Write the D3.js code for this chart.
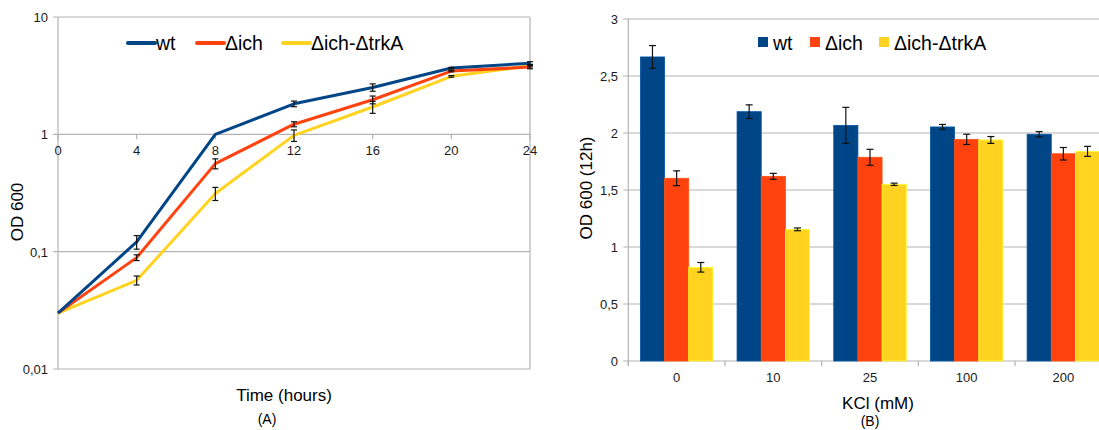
<!DOCTYPE html>
<html>
<head>
<meta charset="utf-8">
<script src="https://cdn.jsdelivr.net/npm/d3@7"></script>
<style>
  body { margin: 0; background: #fff; }
  svg { display: block; font-family: "Liberation Sans", Arial, sans-serif; }
</style>
</head>
<body>
<svg id="fig" width="1099" height="430"></svg>
<script>
// (A) growth curves, OD 600 vs time
const HOURS = [0, 4, 8, 12, 16, 20, 24];
const SERIES = ["wt", "Δich", "Δich-ΔtrkA"];
const COLORS = ["#004586", "#ff420e", "#ffd320"];
const OD_WT    = [0.03, 0.121, 1.0, 1.82, 2.51, 3.67, 4.04];
const OD_ICH   = [0.03, 0.089, 0.563, 1.22, 1.97, 3.46, 3.74];
const OD_TRKA  = [0.03, 0.057, 0.313, 0.98, 1.71, 3.12, 3.85];
const ERR_WT   = [0, 0.016, 0, 0.1, 0.18, 0.05, 0.12];
const ERR_ICH  = [0, 0.005, 0.055, 0.06, 0.15, 0.05, 0.12];
const ERR_TRKA = [0, 0.005, 0.04, 0.11, 0.2, 0.05, 0.1];
const LOG_TICKS = [0.01, 0.1, 1, 10];
const LOG_LABELS = ["0,01", "0,1", "1", "10"];

// (B) OD 600 at 12h vs KCl
const KCL = ["0", "10", "25", "100", "200"];
const BAR_WT   = [2.667, 2.187, 2.067, 2.053, 1.989];
const BAR_ICH  = [1.603, 1.62, 1.787, 1.944, 1.818];
const BAR_TRKA = [0.822, 1.155, 1.55, 1.939, 1.839];
const BERR_WT   = [0.1, 0.06, 0.158, 0.022, 0.023];
const BERR_ICH  = [0.065, 0.026, 0.07, 0.045, 0.055];
const BERR_TRKA = [0.042, 0.012, 0.01, 0.03, 0.044];
const LIN_TICKS = [0, 0.5, 1, 1.5, 2, 2.5, 3];
const LIN_LABELS = ["0", "0,5", "1", "1,5", "2", "2,5", "3"];

const GRID = "#b3b3b3";
const TXT = "#1a1a1a";
const svg = d3.select("#fig");

// ---------- chart A ----------
function drawLines() {
  const g = svg.append("g");
  const x = d3.scaleLinear().domain([0, 24]).range([58, 530]);
  const y = d3.scaleLog().domain([0.01, 10]).range([369, 17]);

  g.selectAll("line.grid").data(LOG_TICKS).enter().append("line")
    .attr("x1", x(0) - 5).attr("x2", x(24))
    .attr("y1", d => y(d)).attr("y2", d => y(d))
    .attr("stroke", GRID).attr("stroke-width", 1.2);
  g.append("line").attr("x1", x(0)).attr("x2", x(0)).attr("y1", y(10)).attr("y2", y(0.01))
    .attr("stroke", GRID).attr("stroke-width", 1.2);
  g.append("line").attr("x1", x(24)).attr("x2", x(24)).attr("y1", y(10)).attr("y2", y(0.01))
    .attr("stroke", GRID).attr("stroke-width", 1.2);

  // x axis crosses at 1
  g.selectAll("line.xt").data(HOURS).enter().append("line")
    .attr("x1", d => x(d)).attr("x2", d => x(d))
    .attr("y1", y(1)).attr("y2", y(1) + 5)
    .attr("stroke", GRID).attr("stroke-width", 1.2);
  g.selectAll("text.xl").data(HOURS).enter().append("text")
    .attr("x", d => x(d)).attr("y", y(1) + 21)
    .attr("text-anchor", "middle").attr("font-size", 13).attr("fill", TXT)
    .text(d => d);

  g.selectAll("text.yl").data(LOG_TICKS).enter().append("text")
    .attr("x", 48).attr("y", d => y(d) + 5)
    .attr("text-anchor", "end").attr("font-size", 13).attr("fill", TXT)
    .text((d, i) => LOG_LABELS[i]);

  const vals = [OD_WT, OD_ICH, OD_TRKA];
  const errs = [ERR_WT, ERR_ICH, ERR_TRKA];
  const line = d3.line().x(d => x(d[0])).y(d => y(d[1]));
  for (let s = 2; s >= 0; s--) {
    const pts = HOURS.map((h, i) => [h, vals[s][i]]);
    g.append("path").datum(pts).attr("d", line)
      .attr("fill", "none").attr("stroke", COLORS[s]).attr("stroke-width", 3)
      .attr("stroke-linejoin", "round");
  }
  for (let s = 0; s < 3; s++) {
    const eb = HOURS.map((h, i) => ({h: h, v: vals[s][i], e: errs[s][i]})).filter(d => d.e > 0);
    const eg = g.append("g").attr("stroke", "#111").attr("stroke-width", 1.2);
    eg.selectAll("line.v").data(eb).enter().append("line")
      .attr("x1", d => x(d.h)).attr("x2", d => x(d.h))
      .attr("y1", d => y(d.v + d.e)).attr("y2", d => y(d.v - d.e));
    eg.selectAll("line.t").data(eb).enter().append("line")
      .attr("x1", d => x(d.h) - 3).attr("x2", d => x(d.h) + 3)
      .attr("y1", d => y(d.v + d.e)).attr("y2", d => y(d.v + d.e));
    eg.selectAll("line.b").data(eb).enter().append("line")
      .attr("x1", d => x(d.h) - 3).attr("x2", d => x(d.h) + 3)
      .attr("y1", d => y(d.v - d.e)).attr("y2", d => y(d.v - d.e));
  }

  // legend
  const lx = [128, 197, 283];
  SERIES.forEach((name, i) => {
    g.append("line").attr("x1", lx[i]).attr("x2", lx[i] + 27).attr("y1", 43).attr("y2", 43)
      .attr("stroke", COLORS[i]).attr("stroke-width", 4).attr("stroke-linecap", "round");
    g.append("text").attr("x", lx[i] + 28).attr("y", 50)
      .attr("font-size", 19.5).attr("fill", "#000").text(name);
  });

  g.append("text").attr("transform", "translate(23,212) rotate(-90)")
    .attr("text-anchor", "middle").attr("font-size", 17).attr("fill", "#000").text("OD 600");
  g.append("text").attr("x", 284).attr("y", 401)
    .attr("text-anchor", "middle").attr("font-size", 17).attr("fill", "#000").text("Time (hours)");
  g.append("text").attr("x", 267).attr("y", 424)
    .attr("text-anchor", "middle").attr("font-size", 14).attr("fill", "#000").text("(A)");
}

// ---------- chart B ----------
function drawBars() {
  const g = svg.append("g");
  const x = d3.scaleBand().domain(KCL).range([628.3, 1111.7]).paddingInner(0.25).paddingOuter(0.125);
  const xs = d3.scaleBand().domain(SERIES).range([0, x.bandwidth()]);
  const y = d3.scaleLinear().domain([0, 3]).range([361, 19]);
  const x0 = 628.3, step = x.step();

  g.selectAll("line.grid").data(LIN_TICKS).enter().append("line")
    .attr("x1", x0 - 5).attr("x2", 1099)
    .attr("y1", d => y(d)).attr("y2", d => y(d))
    .attr("stroke", GRID).attr("stroke-width", 1.2);
  g.append("line").attr("x1", x0).attr("x2", x0).attr("y1", y(3)).attr("y2", y(0) + 5)
    .attr("stroke", GRID).attr("stroke-width", 1.2);
  g.selectAll("line.xt").data(d3.range(KCL.length + 1)).enter().append("line")
    .attr("x1", i => x0 + i * step).attr("x2", i => x0 + i * step)
    .attr("y1", y(0)).attr("y2", y(0) + 5)
    .attr("stroke", GRID).attr("stroke-width", 1.2);

  g.selectAll("text.yl").data(LIN_TICKS).enter().append("text")
    .attr("x", 618).attr("y", d => y(d) + 5)
    .attr("text-anchor", "end").attr("font-size", 13).attr("fill", TXT)
    .text((d, i) => LIN_LABELS[i]);
  g.selectAll("text.xl").data(KCL).enter().append("text")
    .attr("x", d => x(d) + x.bandwidth() / 2).attr("y", 382)
    .attr("text-anchor", "middle").attr("font-size", 13).attr("fill", TXT)
    .text(d => d);

  const vals = [BAR_WT, BAR_ICH, BAR_TRKA];
  const errs = [BERR_WT, BERR_ICH, BERR_TRKA];
  SERIES.forEach((name, s) => {
    const data = KCL.map((c, i) => ({c: c, v: vals[s][i], e: errs[s][i]}));
    g.selectAll(null).data(data).enter().append("rect")
      .attr("x", d => x(d.c) + xs(name))
      .attr("y", d => y(d.v))
      .attr("width", xs.bandwidth())
      .attr("height", d => y(0) - y(d.v))
      .attr("fill", COLORS[s])
      .attr("stroke", d3.color(COLORS[s]).brighter(0.6)).attr("stroke-width", 0.8);
  });
  SERIES.forEach((name, s) => {
    const data = KCL.map((c, i) => ({c: c, v: vals[s][i], e: errs[s][i]}));
    const cx = d => x(d.c) + xs(name) + xs.bandwidth() / 2;
    const eg = g.append("g").attr("stroke", "#111").attr("stroke-width", 1.2);
    eg.selectAll("line.v").data(data).enter().append("line")
      .attr("x1", cx).attr("x2", cx)
      .attr("y1", d => y(d.v + d.e)).attr("y2", d => y(d.v - d.e));
    eg.selectAll("line.t").data(data).enter().append("line")
      .attr("x1", d => cx(d) - 3.5).attr("x2", d => cx(d) + 3.5)
      .attr("y1", d => y(d.v + d.e)).attr("y2", d => y(d.v + d.e));
    eg.selectAll("line.b").data(data).enter().append("line")
      .attr("x1", d => cx(d) - 3.5).attr("x2", d => cx(d) + 3.5)
      .attr("y1", d => y(d.v - d.e)).attr("y2", d => y(d.v - d.e));
  });

  // legend
  const lx = [758, 810, 879];
  SERIES.forEach((name, i) => {
    g.append("rect").attr("x", lx[i]).attr("y", 37).attr("width", 10).attr("height", 10)
      .attr("fill", COLORS[i]);
    g.append("text").attr("x", lx[i] + 15).attr("y", 50)
      .attr("font-size", 19.5).attr("fill", "#000").text(name);
  });

  g.append("text").attr("transform", "translate(592,188) rotate(-90)")
    .attr("text-anchor", "middle").attr("font-size", 17).attr("fill", "#000").text("OD 600 (12h)");
  g.append("text").attr("x", 878).attr("y", 409)
    .attr("text-anchor", "middle").attr("font-size", 17).attr("fill", "#000").text("KCl (mM)");
  g.append("text").attr("x", 870).attr("y", 426)
    .attr("text-anchor", "middle").attr("font-size", 14).attr("fill", "#000").text("(B)");
}

drawLines();
drawBars();
</script>
</body>
</html>
